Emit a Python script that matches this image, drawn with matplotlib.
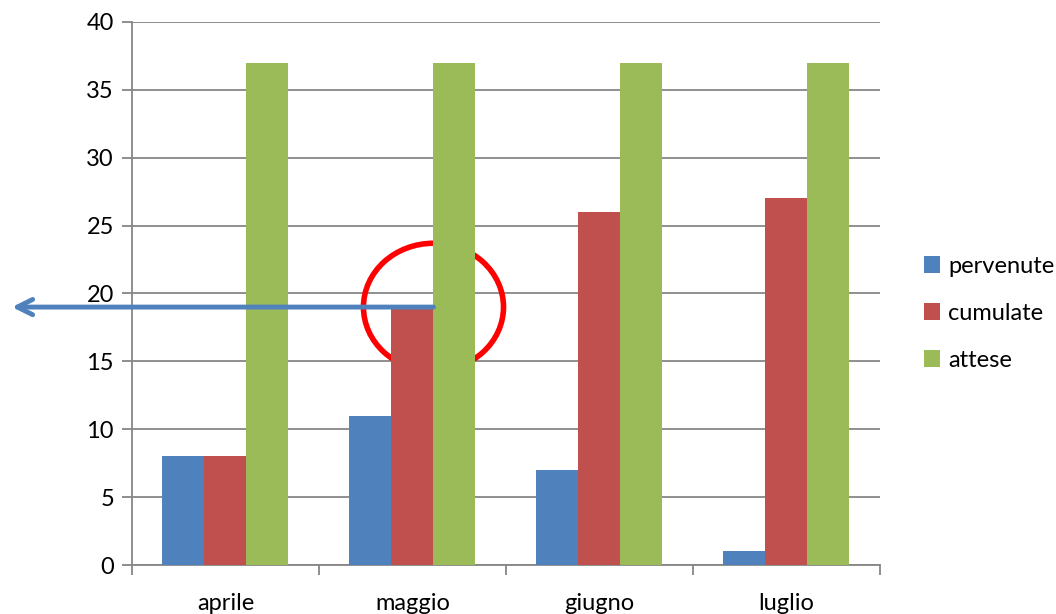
import numpy as np
import matplotlib.pyplot as plt
from matplotlib.patches import Ellipse

plt.rcParams['font.family'] = ['Lato', 'DejaVu Sans']

mesi = ['aprile', 'maggio', 'giugno', 'luglio']
pervenute = [8, 11, 7, 1]
cumulate = [8, 19, 26, 27]
attese = [37, 37, 37, 37]

blu = '#4F81BD'
rosso = '#C0504D'
verde = '#9BBB59'
grigio = '#868686'

fig = plt.figure(figsize=(10.56, 6.14), dpi=100)
ax = fig.add_axes([0.125, 0.0798, 0.7083, 0.8844])

x = np.arange(len(mesi))
w = 0.2246
ax.bar(x - w, pervenute, w, color=blu, label='pervenute', zorder=3)
ax.bar(x, cumulate, w, color=rosso, label='cumulate', zorder=3)
ax.bar(x + w, attese, w, color=verde, label='attese', zorder=3)

ax.set_xlim(-0.5, len(mesi) - 0.5)
ax.set_ylim(0, 40)
ax.set_yticks(range(0, 41, 5))
ax.yaxis.grid(True, color=grigio, linewidth=1.3, zorder=0)
ax.tick_params(axis='y', length=7, width=1.3, color=grigio, labelsize=17, pad=6)

ax.set_xticks(x)
ax.set_xticklabels(mesi)
ax.set_xticks(np.arange(-0.5, len(mesi)), minor=True)
ax.tick_params(axis='x', which='major', length=0, labelsize=17, pad=20)
ax.tick_params(axis='x', which='minor', length=7, width=1.3, color=grigio)

for side in ['top', 'right']:
    ax.spines[side].set_visible(False)
for side in ['left', 'bottom']:
    ax.spines[side].set_color(grigio)
    ax.spines[side].set_linewidth(1.3)

# cerchio rosso intorno al valore cumulato di maggio (dietro le barre)
cerchio = Ellipse((1 + w / 2, cumulate[1]), 0.749, 9.4, fill=False,
                  edgecolor='#FF0000', linewidth=4, zorder=2)
ax.add_patch(cerchio)

# freccia dal valore cumulato di maggio verso l'asse
ax.annotate('', xy=(-1.142, cumulate[1]), xytext=(1 + w / 2, cumulate[1]),
            xycoords='data', textcoords='data', annotation_clip=False,
            arrowprops=dict(arrowstyle='->,head_length=1.1,head_width=0.55',
                            color=blu, linewidth=3.5, shrinkA=0, shrinkB=0),
            zorder=5)

ax.legend(loc='center left', bbox_to_anchor=(1.03, 0.464), frameon=False,
          fontsize=17, handlelength=0.7, handleheight=0.7, handletextpad=0.35,
          labelspacing=1.1)

fig.savefig('out.png', dpi=100)
